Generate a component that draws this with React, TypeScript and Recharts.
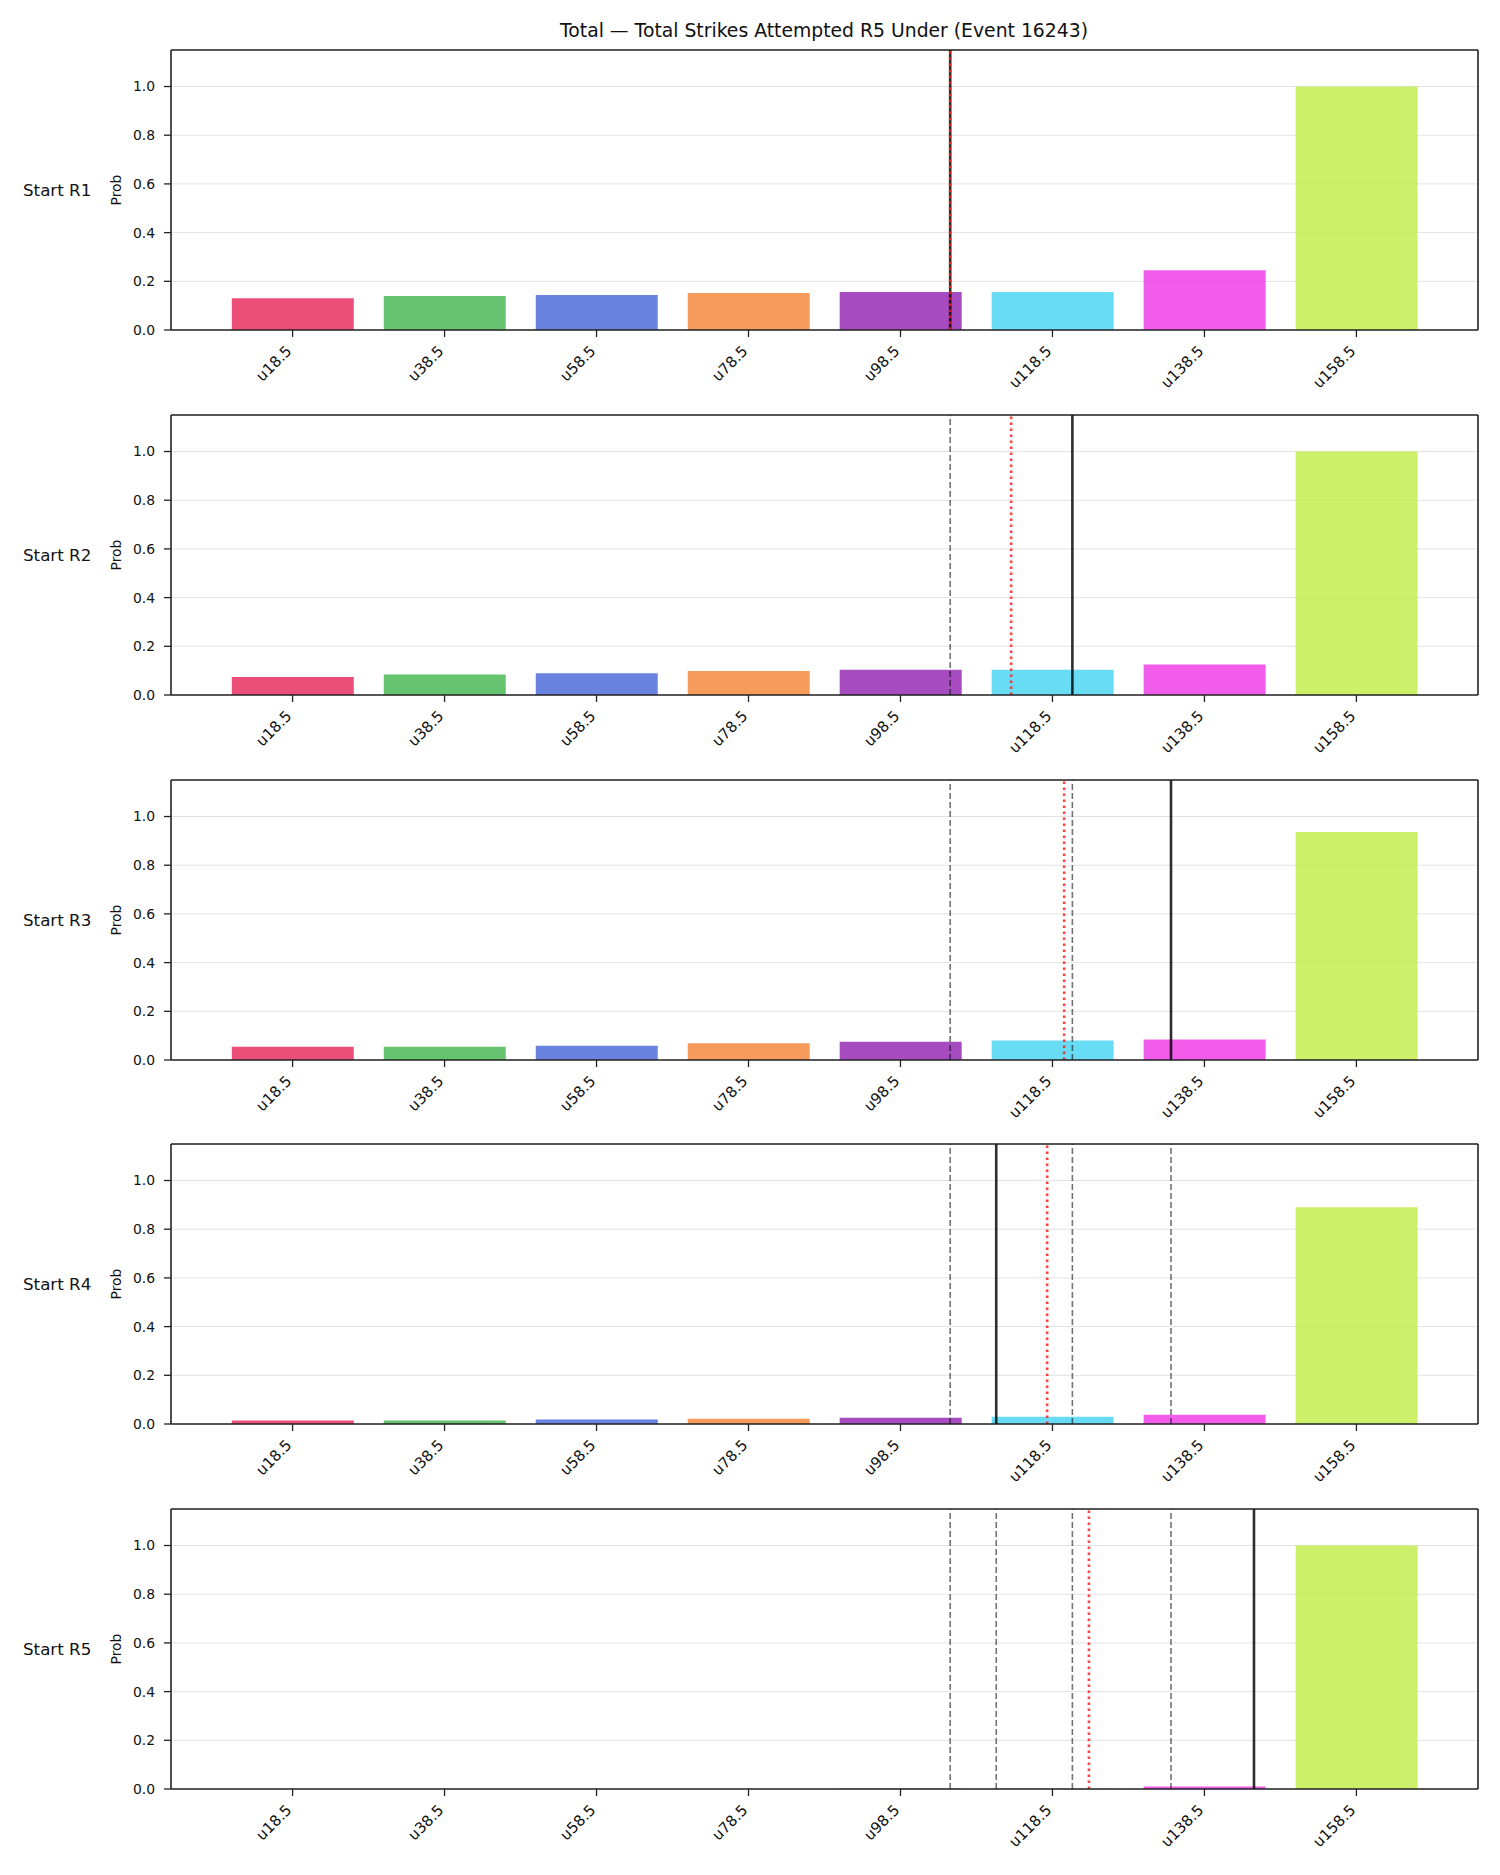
import React from 'react';
import { BarChart, Bar, Cell, XAxis, YAxis, CartesianGrid, ReferenceLine } from 'recharts';

// Strike-count thresholds shown on the x axis
const categories = ['u18.5', 'u38.5', 'u58.5', 'u78.5', 'u98.5', 'u118.5', 'u138.5', 'u158.5'];

// Under-probabilities for each starting round
const probR1 = [0.130, 0.140, 0.144, 0.152, 0.156, 0.156, 0.245, 1.0];
const probR2 = [0.074, 0.084, 0.089, 0.099, 0.104, 0.104, 0.125, 1.0];
const probR3 = [0.054, 0.054, 0.059, 0.069, 0.075, 0.080, 0.084, 0.936];
const probR4 = [0.014, 0.014, 0.018, 0.022, 0.026, 0.030, 0.038, 0.890];
const probR5 = [0.0, 0.0, 0.0, 0.0005, 0.001, 0.001, 0.010, 1.0];

const roundLabels = ['Start R1', 'Start R2', 'Start R3', 'Start R4', 'Start R5'];
const roundProbs = [probR1, probR2, probR3, probR4, probR5];

// Marker positions on the category axis (index units)
const lineMarkers = [4.327, 5.131, 5.78, 4.63, 6.326];
const projMarkers = [4.327, 4.728, 5.077, 4.965, 5.24];

const barColors = ['#E8305F', '#4BBA57', '#516DDA', '#F68A3F', '#962BB5', '#4DD6F3', '#F03FE7', '#C4ED50'];

const yTicks = [0, 0.2, 0.4, 0.6, 0.8, 1.0];
const xTicks = categories.map((_, i) => i);

const FONT = '"DejaVu Sans", Verdana, sans-serif';
const X_MIN = -0.8;
const X_MAX = 7.8;
const Y_MAX = 1.15;

const PANEL_STEP = 364.8;
const CHART_H = 420;

const XTick = (props: any) => {
  const { x, y, payload } = props;
  const ax = x;
  const ay = y + 15;
  return (
    <text
      x={ax}
      y={ay}
      transform={`rotate(-45, ${ax}, ${ay})`}
      textAnchor="end"
      fontSize={15}
      fontFamily={FONT}
      fill="#111"
    >
      {categories[payload.value]}
    </text>
  );
};

function Panel({ index }: { index: number }) {
  const probs = roundProbs[index];
  const data = categories.map((label, i) => ({ x: i, label, p: probs[i] }));
  const earlier = lineMarkers.slice(0, index);
  const top = PANEL_STEP * index;
  return (
    <div style={{ position: 'absolute', left: 0, top, width: 1500, height: CHART_H }}>
      <BarChart
        width={1500}
        height={CHART_H}
        data={data}
        margin={{ top: 50, right: 22, bottom: 60, left: 111 }}
        barCategoryGap="10%"
      >
        <CartesianGrid horizontal vertical={false} stroke="#e3e3e3" strokeWidth={1} />
        <XAxis
          dataKey="x"
          type="number"
          domain={[X_MIN, X_MAX]}
          allowDataOverflow
          ticks={xTicks}
          interval={0}
          height={30}
          tickSize={7}
          tickMargin={0}
          tick={<XTick />}
          axisLine={{ stroke: '#222', strokeWidth: 1.6 }}
          tickLine={{ stroke: '#222', strokeWidth: 1.3 }}
        />
        <YAxis
          type="number"
          domain={[0, Y_MAX]}
          allowDataOverflow
          ticks={yTicks}
          interval={0}
          width={60}
          tickSize={7}
          tickMargin={9}
          tickFormatter={(v: number) => v.toFixed(1)}
          tick={{ fontSize: 13.9, fontFamily: FONT, fill: '#111' }}
          axisLine={{ stroke: '#222', strokeWidth: 1.6 }}
          tickLine={{ stroke: '#222', strokeWidth: 1.3 }}
        />
        <Bar dataKey="p" isAnimationActive={false}>
          {data.map((d, i) => (
            <Cell key={d.label} fill={barColors[i]} fillOpacity={0.85} />
          ))}
        </Bar>
        {earlier.map((v, i) => (
          <ReferenceLine
            key={`prev-${i}`}
            x={v}
            stroke="#000"
            strokeOpacity={0.55}
            strokeWidth={1.6}
            strokeDasharray="6 3"
          />
        ))}
        <ReferenceLine x={lineMarkers[index]} stroke="#000" strokeOpacity={0.82} strokeWidth={2.6} />
        <ReferenceLine
          x={projMarkers[index]}
          stroke="#ff2020"
          strokeOpacity={0.85}
          strokeWidth={2.6}
          strokeDasharray="2.5 3.5"
        />
        <ReferenceLine y={Y_MAX} stroke="#222" strokeWidth={1.6} />
        <ReferenceLine x={X_MAX} stroke="#222" strokeWidth={1.6} />
      </BarChart>
      <div
        style={{
          position: 'absolute',
          left: 23,
          top: 190,
          transform: 'translateY(-50%)',
          fontFamily: FONT,
          fontSize: 16.7,
          color: '#111',
          whiteSpace: 'nowrap',
          lineHeight: 1,
        }}
      >
        {roundLabels[index]}
      </div>
      <div
        style={{
          position: 'absolute',
          left: 117,
          top: 190,
          transform: 'translate(-50%, -50%) rotate(-90deg)',
          fontFamily: FONT,
          fontSize: 13.9,
          color: '#111',
          whiteSpace: 'nowrap',
          lineHeight: 1,
        }}
      >
        Prob
      </div>
    </div>
  );
}

export default function App() {
  return (
    <div
      style={{
        position: 'absolute',
        left: 0,
        top: 0,
        width: 1500,
        height: 1875,
        background: '#fff',
        overflow: 'hidden',
      }}
    >
      {roundLabels.map((_, i) => (
        <Panel key={i} index={i} />
      ))}
      <div
        style={{
          position: 'absolute',
          left: 824,
          top: 31,
          transform: 'translate(-50%, -50%)',
          fontFamily: FONT,
          fontSize: 18.8,
          color: '#111',
          whiteSpace: 'nowrap',
          lineHeight: 1,
        }}
      >
        Total — Total Strikes Attempted R5 Under (Event 16243)
      </div>
    </div>
  );
}
